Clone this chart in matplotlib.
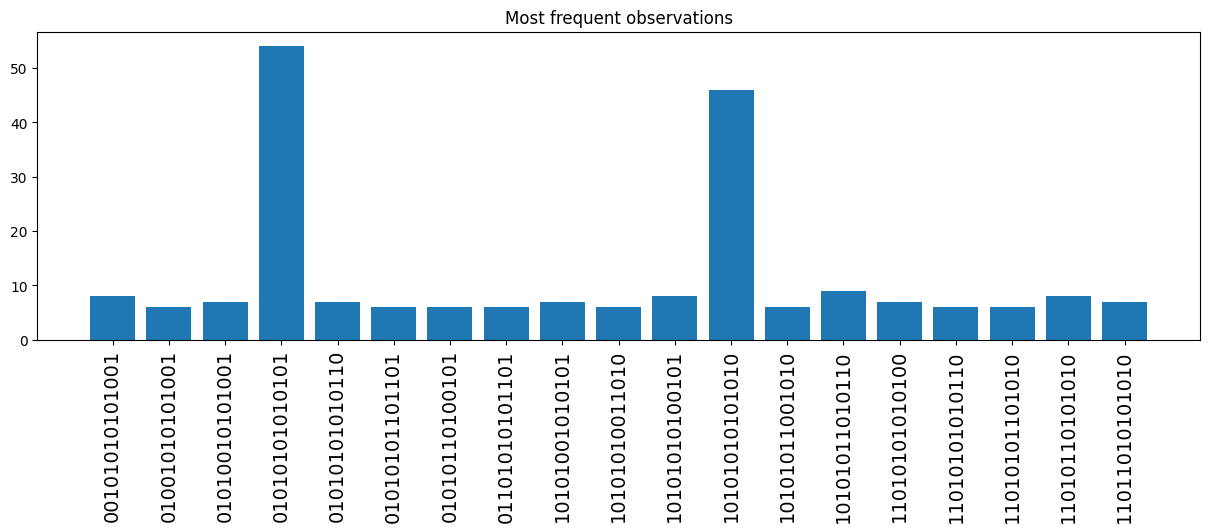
import matplotlib
matplotlib.use("Agg")
import matplotlib.pyplot as plt

# observed bitstrings and their counts
labels = [
    "00101010101001", "01001010101001", "01010010101001", "01010101010101",
    "01010101010110", "01010101101101", "01010110100101", "01101010101101",
    "10101001010101", "10101010011010", "10101010100101", "10101010101010",
    "10101011001010", "10101011010110", "11010101010100", "11010101010110",
    "11010101101010", "11010110101010", "11011010101010",
]
counts = [8, 6, 7, 54, 7, 6, 6, 6, 7, 6, 8, 46, 6, 9, 7, 6, 6, 8, 7]

fig, ax = plt.subplots(figsize=(15, 4))
ax.bar(labels, counts)
ax.set_title("Most frequent observations")
plt.xticks(rotation=90, fontsize=14)

plt.savefig("out.png", dpi=100, bbox_inches="tight")
